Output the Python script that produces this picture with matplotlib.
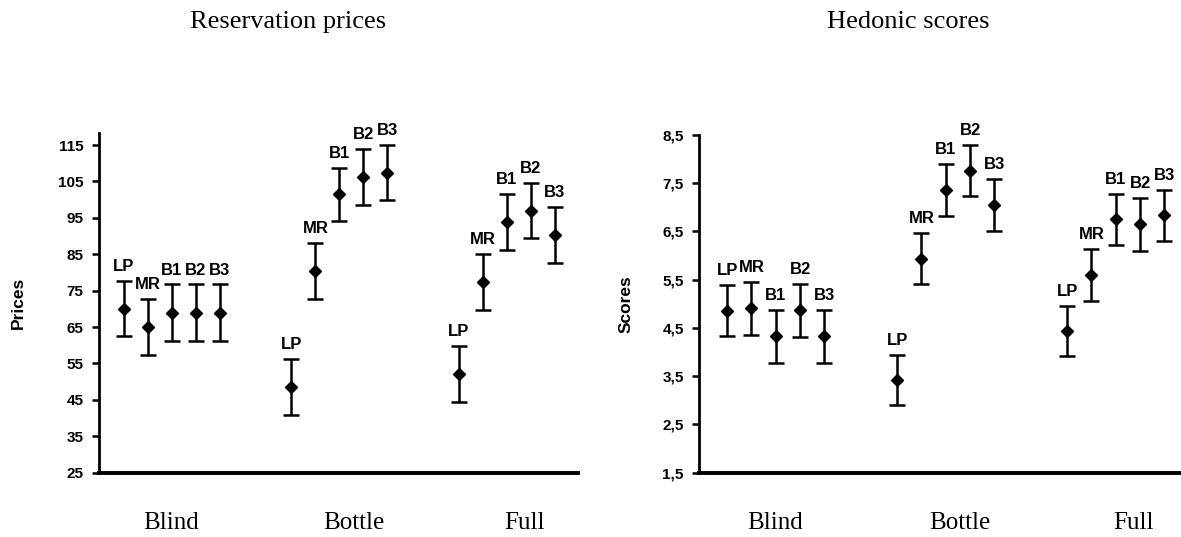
import numpy as np
import matplotlib
matplotlib.use('Agg')
import matplotlib.pyplot as plt
from matplotlib.ticker import FuncFormatter

groups = ['Blind', 'Bottle', 'Full']
products = ['LP', 'MR', 'B1', 'B2', 'B3']

# reservation prices: means and error half-widths, one row per group
price_means = [[70.1, 64.9, 69.0, 69.0, 69.0],
               [48.6, 80.4, 101.5, 106.1, 107.4],
               [52.1, 77.4, 93.9, 97.0, 90.3]]
price_errs = [[7.6, 7.7, 7.7, 7.7, 7.7],
              [7.7, 7.6, 7.3, 7.7, 7.6],
              [7.6, 7.6, 7.6, 7.6, 7.7]]

# hedonic scores
score_means = [[4.86, 4.91, 4.33, 4.87, 4.33],
               [3.42, 5.94, 7.36, 7.76, 7.05],
               [4.44, 5.60, 6.75, 6.65, 6.84]]
score_errs = [[0.53, 0.55, 0.55, 0.55, 0.55],
              [0.52, 0.53, 0.53, 0.53, 0.53],
              [0.52, 0.54, 0.53, 0.55, 0.53]]

price_ticks = [25, 35, 45, 55, 65, 75, 85, 95, 105, 115]
score_ticks = [1.5, 2.5, 3.5, 4.5, 5.5, 6.5, 7.5, 8.5]

sans = 'Liberation Sans'
serif = 'Liberation Serif'

fig = plt.figure(figsize=(11.81, 5.37), dpi=100)
ax1 = fig.add_axes([0.0838, 0.1197, 0.4056, 0.6326])
ax2 = fig.add_axes([0.5919, 0.1197, 0.4081, 0.6289])

step = 0.143
cat_pos = [0.28, 1.37, 2.39]


def draw_panel(ax, means, errs, ticks, ylim, xlim, ylabel, label_x, fmt):
    for g in range(len(groups)):
        for i, name in enumerate(products):
            x = g + i * step
            m = means[g][i]
            e = errs[g][i]
            ax.errorbar(x, m, yerr=e, fmt='D', color='black', markersize=6.5,
                        elinewidth=1.8, capsize=5.5, capthick=1.8)
            ax.annotate(name, (x, m + e), xytext=(0, 5), textcoords='offset points',
                        ha='center', va='bottom', fontsize=12, fontweight='bold',
                        family=sans)
    ax.set_xlim(*xlim)
    ax.set_ylim(*ylim)
    ax.set_yticks(ticks)
    ax.yaxis.set_major_formatter(FuncFormatter(fmt))
    ax.set_xticks(cat_pos)
    ax.set_xticklabels(groups, family=serif, fontsize=18)
    ax.tick_params(axis='x', length=0, pad=28)
    ax.tick_params(axis='y', direction='out', length=5, width=1.8, pad=6)
    for lab in ax.get_yticklabels():
        lab.set_family(sans)
        lab.set_fontweight('bold')
        lab.set_fontsize(11)
    ax.spines['top'].set_visible(False)
    ax.spines['right'].set_visible(False)
    ax.spines['left'].set_linewidth(2.0)
    ax.spines['bottom'].set_linewidth(2.8)
    ax.set_ylabel(ylabel, family=sans, fontweight='bold', fontsize=12.5)
    ax.yaxis.set_label_coords(label_x, 0.5)


draw_panel(ax1, price_means, price_errs, price_ticks, (25, 118.3), (-0.149, 2.71),
           'Prices', -0.152, lambda v, p: '%d' % v)
draw_panel(ax2, score_means, score_errs, score_ticks, (1.5, 8.5), (-0.165, 2.67),
           'Scores', -0.135, lambda v, p: ('%.1f' % v).replace('.', ','))

fig.text(0.244, 0.959, 'Reservation prices', ha='center', va='center',
         family=serif, fontsize=19)
fig.text(0.769, 0.959, 'Hedonic scores', ha='center', va='center',
         family=serif, fontsize=19)

fig.savefig('out.png', dpi=100)
